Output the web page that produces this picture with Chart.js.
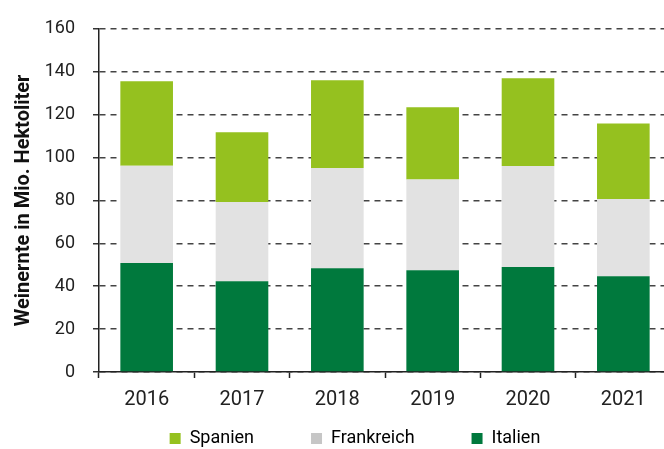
<!DOCTYPE html>
<html lang="de">
<head>
<meta charset="utf-8">
<title>Weinernte</title>
<script src="https://cdn.jsdelivr.net/npm/chart.js@4.4.0/dist/chart.umd.min.js"></script>
<style>
  html, body { margin: 0; padding: 0; background: #fff; overflow: hidden; }
</style>
</head>
<body>
<canvas id="myChart" width="676" height="449"></canvas>
<script>
// Weinernte in Mio. Hektoliter
var years = ['2016', '2017', '2018', '2019', '2020', '2021'];
var italien = [50.8, 42.3, 48.4, 47.4, 49.0, 44.6];
var frankreich = [45.4, 37.0, 46.7, 42.3, 47.0, 36.0];
var spanien = [39.3, 32.5, 40.9, 33.7, 40.9, 35.2];

var yMin = 0;
var yMax = 160;
var yStep = 20;
var yTitle = 'Weinernte in Mio. Hektoliter';

Chart.defaults.font.family = 'Roboto, "Liberation Sans", sans-serif';
Chart.defaults.color = '#222';

// legend padding is also the gap between the items, so pull the row back up
var legendRowGap = 12.5;
const legendRow = {
    id: 'legendRow',
    afterLayout: function (chart) {
        var lg = chart.legend;
        if (lg) {
            lg.top -= lg.options.labels.padding - legendRowGap;
        }
    }
};

const ctx = document.getElementById('myChart').getContext('2d');

const myChart = new Chart(ctx, {
    type: 'bar',
    data: {
        labels: years,
        datasets: [{
            label: 'Italien',
            data: italien,
            backgroundColor: '#00793D',
            legendColor: '#00793D'
        }, {
            label: 'Frankreich',
            data: frankreich,
            backgroundColor: '#E2E2E2',
            legendColor: '#C6C6C6'
        }, {
            label: 'Spanien',
            data: spanien,
            backgroundColor: '#95C11F',
            legendColor: '#95C11F'
        }]
    },
    plugins: [legendRow],
    options: {
        responsive: false,
        animation: false,
        devicePixelRatio: 1,
        layout: {
            padding: { top: 14, left: 39, right: 5, bottom: 0 }
        },
        datasets: {
            bar: {
                barPercentage: 0.552,
                categoryPercentage: 1,
                borderWidth: 0
            }
        },
        plugins: {
            tooltip: { enabled: false },
            legend: {
                position: 'bottom',
                reverse: true,
                maxHeight: 32,
                labels: {
                    boxWidth: 11,
                    boxHeight: 11,
                    padding: 57,
                    color: '#222',
                    font: { size: 18 },
                    generateLabels: function (chart) {
                        return chart.data.datasets.map(function (ds, i) {
                            return {
                                text: ds.label,
                                fillStyle: ds.legendColor,
                                strokeStyle: ds.legendColor,
                                lineWidth: 0,
                                hidden: false,
                                datasetIndex: i
                            };
                        });
                    }
                }
            }
        },
        scales: {
            x: {
                stacked: true,
                afterFit: function (scale) { scale.height = 45; },
                grid: {
                    display: true,
                    drawOnChartArea: false,
                    drawTicks: true,
                    tickLength: 6,
                    tickColor: '#222',
                    tickWidth: 1.5
                },
                border: { display: true, color: '#222', width: 1.5 },
                ticks: {
                    padding: 10,
                    maxRotation: 0,
                    autoSkip: false,
                    color: '#222',
                    font: { size: 20 }
                }
            },
            y: {
                stacked: true,
                min: yMin,
                max: yMax,
                afterFit: function (scale) { scale.width = 60; },
                grid: {
                    color: '#444',
                    lineWidth: 1.5,
                    drawTicks: true,
                    tickLength: 6,
                    tickColor: '#333',
                    tickBorderDash: []
                },
                border: { display: true, color: '#222', width: 1.5, dash: [6, 5] },
                ticks: {
                    stepSize: yStep,
                    padding: 18,
                    color: '#222',
                    font: { size: 18 }
                },
                title: {
                    display: true,
                    text: yTitle,
                    color: '#111',
                    font: { size: 20, weight: 'bold' },
                    padding: { top: -27, bottom: 0 }
                }
            }
        }
    }
});
</script>
</body>
</html>
